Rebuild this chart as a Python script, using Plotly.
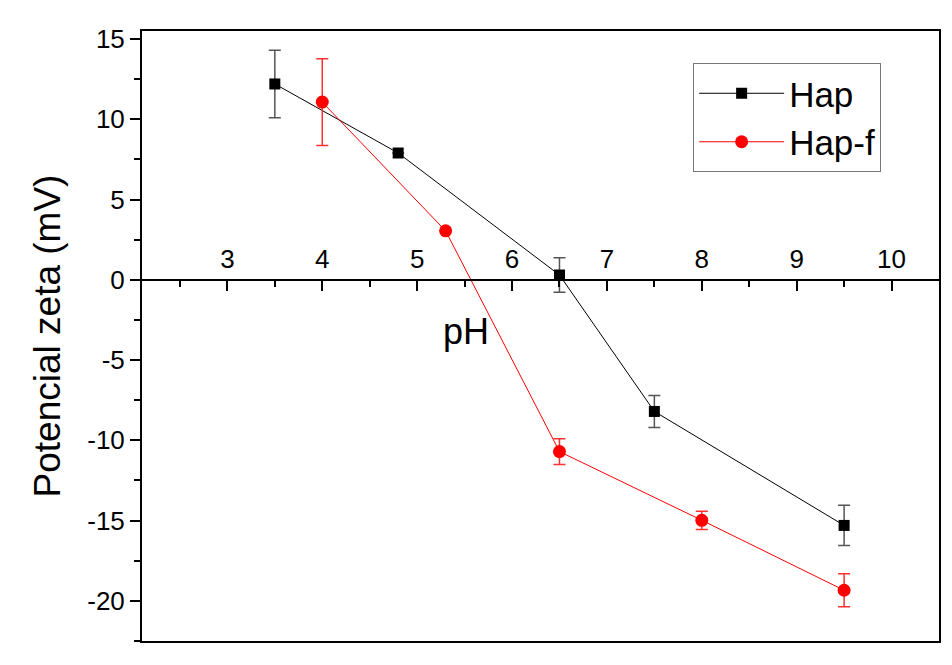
import plotly.graph_objects as go

# Data
ph_hap = [3.5, 4.8, 6.5, 7.5, 9.5]
zeta_hap = [12.2, 7.9, 0.3, -8.2, -15.3]
err_hap = [2.1, 0.0, 1.08, 1.0, 1.25]

ph_hapf = [4.0, 5.3, 6.5, 8.0, 9.5]
zeta_hapf = [11.07, 3.05, -10.7, -14.98, -19.34]
err_hapf = [2.7, 0.0, 0.8, 0.57, 1.03]

x_ticks = [3, 4, 5, 6, 7, 8, 9, 10]
y_ticks = [15, 10, 5, 0, -5, -10, -15, -20]

FONT = "Arial, Liberation Sans, sans-serif"

fig = go.Figure()
fig.add_trace(go.Scatter(
    x=ph_hap, y=zeta_hap, name="Hap", mode="lines+markers",
    line=dict(color="black", width=1),
    marker=dict(symbol="square", size=11, color="black"),
    error_y=dict(type="data", array=err_hap, color="#555555", thickness=1.5, width=6),
    xaxis="x", yaxis="y",
))
fig.add_trace(go.Scatter(
    x=ph_hapf, y=zeta_hapf, name="Hap-f", mode="lines+markers",
    line=dict(color="#ff0000", width=1),
    marker=dict(symbol="circle", size=13, color="#ff0000"),
    error_y=dict(type="data", array=err_hapf, color="#ff3030", thickness=1.5, width=6),
    xaxis="x", yaxis="y",
))

ymin, ymax = -22.5, 15.5
zero_pos = (0 - ymin) / (ymax - ymin)

fig.update_layout(
    width=944, height=657,
    margin=dict(l=134, r=13, t=23, b=24),
    paper_bgcolor="white", plot_bgcolor="white",
    font=dict(family=FONT, color="black"),
    showlegend=True,
    legend=dict(
        x=0.6915, y=0.9475, xanchor="left", yanchor="top",
        bordercolor="#777777", borderwidth=1, bgcolor="white",
        font=dict(size=35, family=FONT, color="black"),
        itemwidth=85, tracegroupgap=0,
    ),
    xaxis=dict(
        range=[2.1, 10.5], showline=True, linecolor="black", linewidth=2,
        mirror=True, ticks="", showticklabels=False, showgrid=False, zeroline=False,
        automargin=False,
    ),
    xaxis2=dict(
        matches="x", overlaying="x", anchor="free", position=zero_pos, side="top",
        range=[2.1, 10.5], automargin=False,
        showline=True, linecolor="black", linewidth=2,
        ticks="inside", ticklen=10, tickwidth=2, tickcolor="black",
        tickvals=x_ticks, ticktext=[str(v) for v in x_ticks],
        tickfont=dict(size=26, family=FONT, color="black"),
        minor=dict(ticks="inside", ticklen=6, tickwidth=2, tickcolor="black", dtick=0.5, tick0=2.5),
        showgrid=False, zeroline=False,
    ),
    yaxis=dict(
        range=[ymin, ymax], showline=True, linecolor="black", linewidth=2,
        mirror=True, ticks="outside", ticklen=10, tickwidth=2, tickcolor="black",
        tickvals=y_ticks, ticktext=[str(v) for v in y_ticks],
        tickfont=dict(size=26, family=FONT, color="black"),
        minor=dict(ticks="outside", ticklen=6, tickwidth=2, tickcolor="black", dtick=2.5, tick0=0),
        showgrid=False, zeroline=False, automargin=False,
        title=dict(text="Potencial zeta (mV)", font=dict(size=37, family=FONT, color="black")),
    ),
    annotations=[dict(
        x=5.52, y=-3.2, xref="x", yref="y", text="pH", showarrow=False,
        font=dict(size=36, family=FONT, color="black"),
    )],
)

# dummy trace so xaxis2 is rendered
fig.add_trace(go.Scatter(x=[2.1], y=[ymin], xaxis="x2", yaxis="y", mode="markers",
                         marker=dict(opacity=0), showlegend=False, hoverinfo="skip"))

fig.write_html("out.html")
